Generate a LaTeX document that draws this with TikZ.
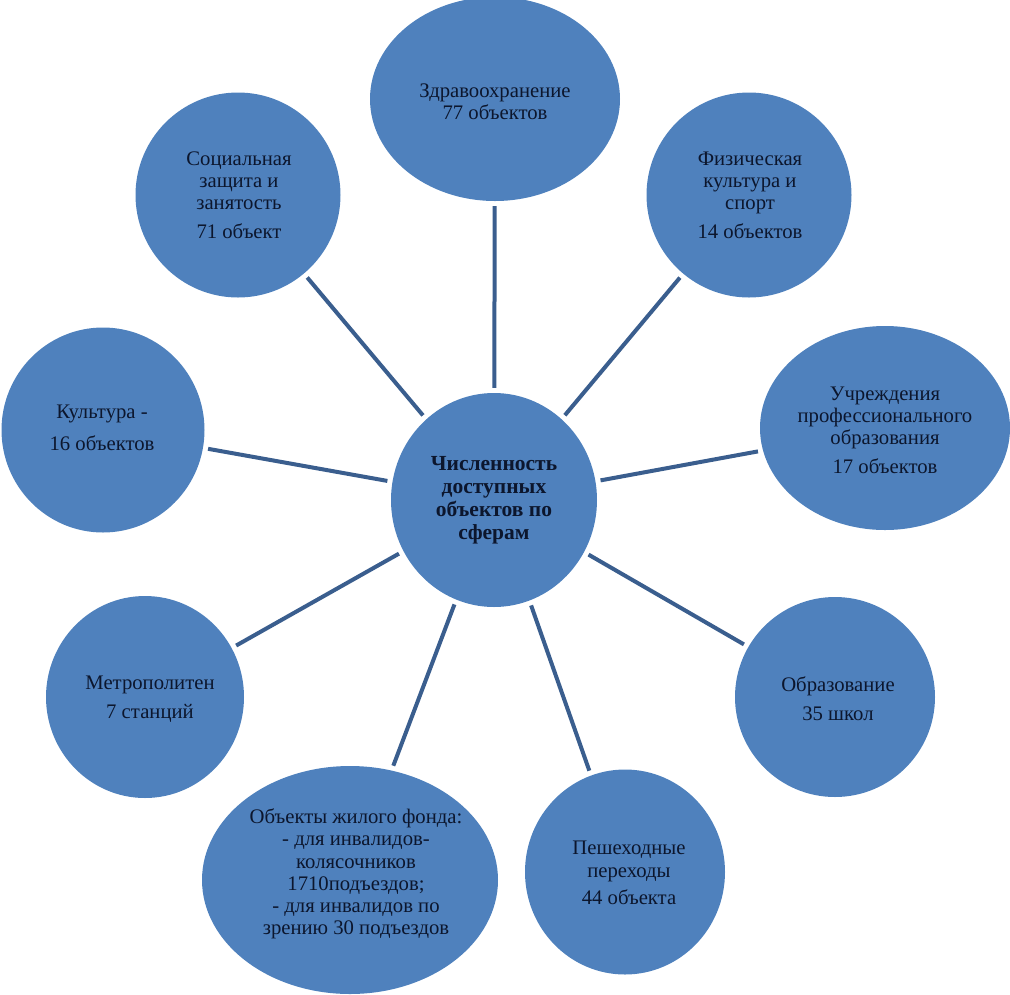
\documentclass[tikz,border=0pt]{standalone}
\usepackage{fontspec}
\setmainfont{Liberation Serif}
\usetikzlibrary{shapes.geometric}
\definecolor{bubfill}{RGB}{79,129,189}
\definecolor{linkcol}{RGB}{58,94,142}
\definecolor{txtcol}{RGB}{12,22,45}
\tikzset{
  bub/.style={ellipse, fill=bubfill, draw=none, inner sep=0pt},
  txt/.style={align=center, text=txtcol, font=\fontsize{20.7}{22.3}\selectfont, inner sep=0pt},
  ctxt/.style={align=center, text=txtcol, font=\fontsize{21.5}{23}\selectfont\bfseries, inner sep=0pt},
  link/.style={draw=linkcol, line width=4pt, shorten <=5pt, shorten >=5pt},
}
\begin{document}
\begin{tikzpicture}[x=1pt,y=-1pt]
\useasboundingbox (0,0) rectangle (1010,994);
% bubbles
\node[bub, minimum width=206pt, minimum height=214pt] (c)  at (494,500) {};
\node[bub, minimum width=250pt, minimum height=204pt] (zd) at (495,99) {};
\node[bub, minimum width=205pt, minimum height=205pt] (so) at (238,195) {};
\node[bub, minimum width=205pt, minimum height=205pt] (ph) at (749,195) {};
\node[bub, minimum width=250pt, minimum height=204pt] (pr) at (885,428) {};
\node[bub, minimum width=203pt, minimum height=205pt] (cu) at (103,430) {};
\node[bub, minimum width=198pt, minimum height=202pt] (me) at (145,697) {};
\node[bub, minimum width=200pt, minimum height=200pt] (ob) at (835,697) {};
\node[bub, minimum width=200pt, minimum height=205pt] (pe) at (625,872) {};
\node[bub, minimum width=296pt, minimum height=228pt] (ho) at (350,880) {};
% texts
\node[ctxt] (ct) at (494,500) {Численность\\доступных\\объектов по\\сферам};
\node[txt] (zdt) at (495,102) {Здравоохранение\\77 объектов};
\node[txt] (sot) at (239,195) {Социальная\\защита и\\занятость\\[6pt] 71 объект};
\node[txt] (pht) at (750,195) {Физическая\\культура и\\спорт\\[6pt] 14 объектов};
\node[txt] (prt) at (885,430) {Учреждения\\профессионального\\образования\\[6pt] 17 объектов};
\node[txt] (cut) at (102,428) {Культура -\\[10pt]16 объектов};
\node[txt] (met) at (150,699) {Метрополитен\\[7pt]7 станций};
\node[txt] (obt) at (838,699) {Образование\\[7pt]35 школ};
\node[txt] (pet) at (629,873) {Пешеходные\\переходы\\[5pt]44 объекта};
\node[txt] (hot) at (356,874) {Объекты жилого фонда:\\- для инвалидов-\\колясочников\\1710подъездов;\\- для инвалидов по\\зрению 30 подъездов};
% connectors
\draw[link] (c) -- (zd);
\draw[link] (c) -- (so);
\draw[link] (c) -- (ph);
\draw[link] (c) -- (pr);
\draw[link] (c) -- (cu);
\draw[link] (c) -- (me);
\draw[link] (c) -- (ob);
\draw[link] (c) -- (pe);
\draw[link] (c) -- (ho);
\end{tikzpicture}
\end{document}
